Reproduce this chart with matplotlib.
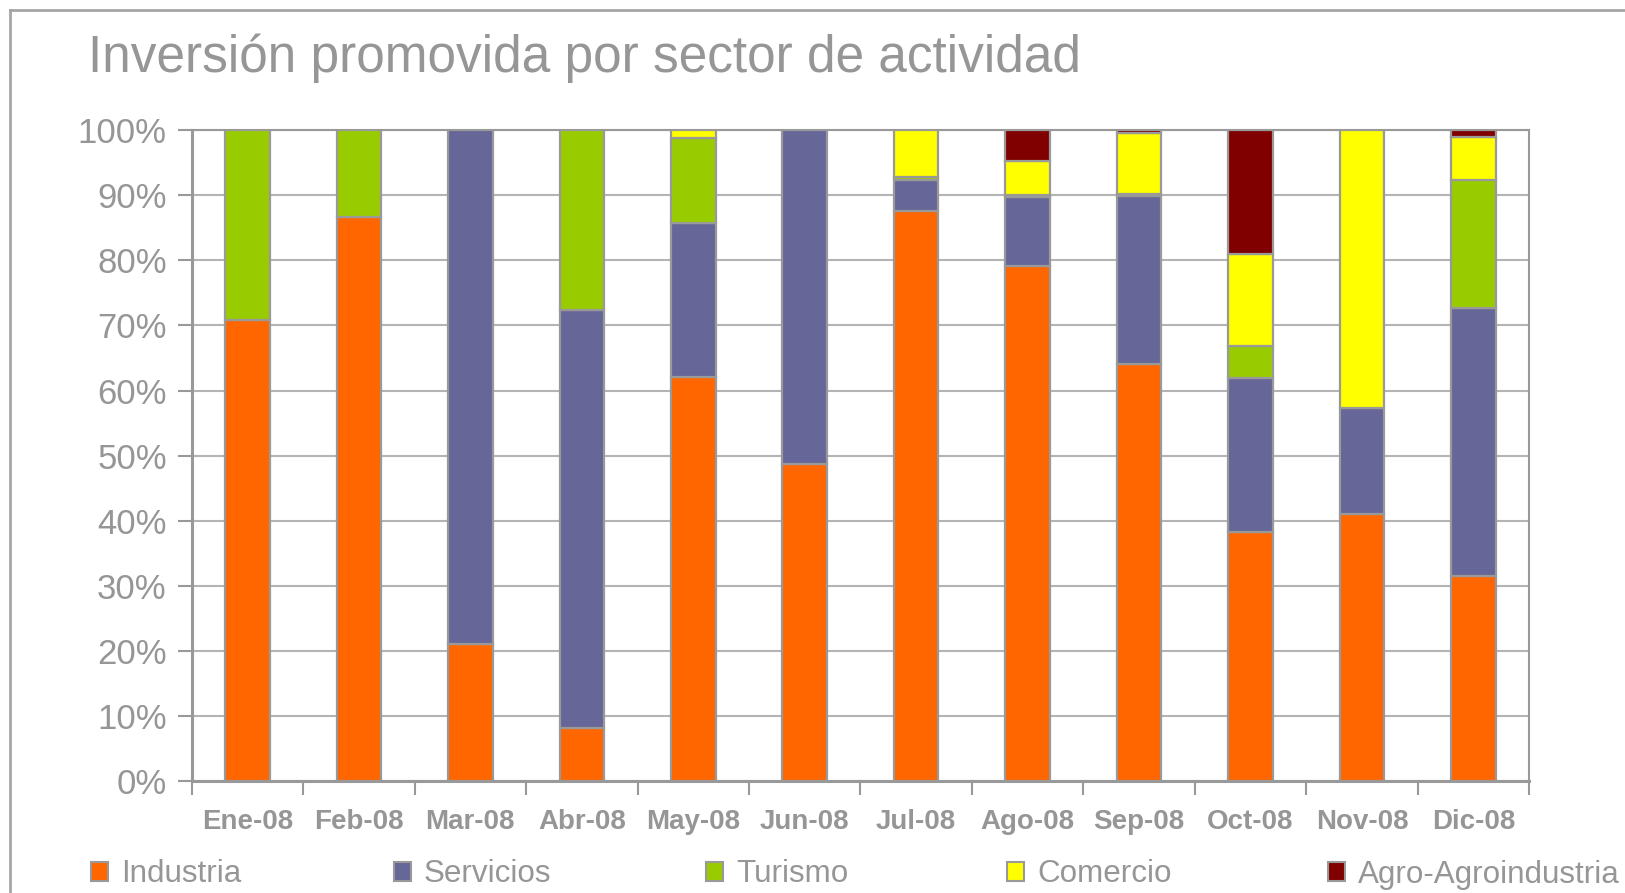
import matplotlib
matplotlib.use("Agg")
import matplotlib.pyplot as plt
from matplotlib.patches import Patch
from matplotlib.lines import Line2D
import numpy as np

months = ["Ene-08", "Feb-08", "Mar-08", "Abr-08", "May-08", "Jun-08",
          "Jul-08", "Ago-08", "Sep-08", "Oct-08", "Nov-08", "Dic-08"]
industria = [70.8, 86.6, 21.1, 8.2, 62.1, 48.7, 87.6, 79.1, 64.0, 38.3, 41.1, 31.5]
servicios = [0, 0, 78.9, 64.1, 23.7, 51.3, 4.7, 10.6, 25.9, 23.6, 16.2, 41.1]
turismo = [29.2, 13.4, 0, 27.7, 12.9, 0, 0.5, 0.3, 0.3, 5.0, 0, 19.7]
comercio = [0, 0, 0, 0, 1.3, 0, 7.2, 5.3, 9.4, 14.1, 42.7, 6.7]
agro = [0, 0, 0, 0, 0, 0, 0, 4.7, 0.4, 19.0, 0, 1.0]
series_names = ["Industria", "Servicios", "Turismo", "Comercio", "Agro-Agroindustria"]
series = [industria, servicios, turismo, comercio, agro]
colors = ["#FF6600", "#666699", "#99CC00", "#FFFF00", "#800000"]
title = "Inversión promovida por sector de actividad"

plt.rcParams['font.family'] = ['Liberation Sans', 'DejaVu Sans']
GRAY = "#969696"
EDGE = "#999999"

fig = plt.figure(figsize=(16.25, 8.93), dpi=100)
ax = fig.add_axes([0.118, 0.1251, 0.823, 0.7293])

x = np.arange(len(months))
bottom = np.zeros(len(months))
for vals, c in zip(series, colors):
    v = np.array(vals, dtype=float)
    ec = [EDGE if val > 0 else 'none' for val in v]
    ax.bar(x, v, bottom=bottom, width=0.40, color=c, edgecolor=ec,
           linewidth=1.6, zorder=3)
    bottom += v

ax.set_xlim(-0.5, len(months) - 0.5)
ax.set_ylim(0, 100)
ax.set_yticks(np.arange(0, 101, 10))
ax.set_yticklabels([f"{t}%" for t in range(0, 101, 10)])
ax.yaxis.grid(True, color="#b4b4b4", linewidth=1.5, zorder=0)
ax.set_axisbelow(True)

ax.set_xticks(x)
ax.set_xticklabels(months, fontweight='bold')
ax.set_xticks(np.arange(-0.5, len(months), 1.0), minor=True)
ax.tick_params(axis='x', which='major', length=0, pad=20, labelsize=20, labelcolor=GRAY)
ax.tick_params(axis='x', which='minor', length=10, width=1.5, color=EDGE)
ax.tick_params(axis='y', length=10, width=1.5, color=EDGE, labelsize=25, labelcolor=GRAY, pad=8)

for s in ['left', 'bottom']:
    ax.spines[s].set_color(EDGE)
    ax.spines[s].set_linewidth(2.2)
for s in ['top', 'right']:
    ax.spines[s].set_color(EDGE)
    ax.spines[s].set_linewidth(1.5)

fig.text(0.054, 1 - 72 / 893, title, fontsize=37, color=GRAY, ha='left', va='baseline')

# outer frame
fig.add_artist(Line2D([10 / 1625, 10 / 1625], [0, 1 - 10 / 893], transform=fig.transFigure,
                      color="#a6a6a6", linewidth=2))
fig.add_artist(Line2D([10 / 1625, 1], [1 - 10 / 893, 1 - 10 / 893], transform=fig.transFigure,
                      color="#a6a6a6", linewidth=2))

legend_x = [91, 394, 706, 1007, 1328]
for name, c, lx in zip(series_names, colors, legend_x):
    h = Patch(facecolor=c, edgecolor=EDGE, linewidth=1.5)
    fig.legend(handles=[h], labels=[name], loc='center left',
               bbox_to_anchor=(lx / 1625, 1 - 874.5 / 893), frameon=False,
               fontsize=22.6, handlelength=0.54, handleheight=0.54, handletextpad=0.42,
               borderpad=0, borderaxespad=0, labelcolor=GRAY)

fig.savefig("out.png", dpi=100)
